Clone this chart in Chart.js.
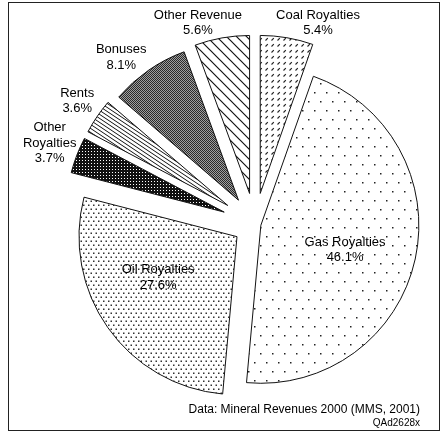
<!DOCTYPE html>
<html>
<head>
  <title>Mineral Revenues 2000</title>
  <script src="https://cdn.jsdelivr.net/npm/chart.js"></script>
  <style>
    body { margin: 0; background: #fff; }
    #frame {
      position: absolute; left: 8px; top: 2px;
      width: 430px; height: 427px;
      border: 1px solid #222;
    }
    #chart { position: absolute; left: 0; top: 0; }
  </style>
</head>
<body>
  <div id="frame"></div>
  <canvas id="chart" width="441" height="438"></canvas>

  <script>
    // clockwise from 12 o'clock
    const categories = ['Coal Royalties', 'Gas Royalties', 'Oil Royalties', 'Other Royalties', 'Rents', 'Bonuses', 'Other Revenue'];
    const shares = [5.4, 46.1, 27.6, 3.7, 3.6, 8.1, 5.6];
    const labelLines = [['Coal Royalties'], ['Gas Royalties'], ['Oil Royalties'], ['Other', 'Royalties'], ['Rents'], ['Bonuses'], ['Other Revenue']];

    const canvas = document.getElementById('chart');
    const ctx = canvas.getContext('2d');

    function makePattern(w, h, draw) {
      const c = document.createElement('canvas');
      c.width = w; c.height = h;
      const g = c.getContext('2d');
      g.fillStyle = '#fff';
      g.fillRect(0, 0, w, h);
      draw(g);
      return ctx.createPattern(c, 'repeat');
    }

    const fills = [
      // coal: short slanted dashes
      makePattern(6, 6, g => {
        g.strokeStyle = '#222'; g.lineWidth = 1.1;
        g.beginPath(); g.moveTo(1.5, 4.5); g.lineTo(3.8, 2.2); g.stroke();
      }),
      // gas: sparse staggered dots
      makePattern(12, 18, g => {
        g.fillStyle = '#222';
        g.fillRect(2, 2, 1.5, 1.5);
        g.fillRect(8, 11, 1.5, 1.5);
      }),
      // oil: dense dots
      makePattern(5, 8, g => {
        g.fillStyle = '#333';
        g.fillRect(0.5, 0.5, 1.5, 1.5);
        g.fillRect(3, 4.5, 1.5, 1.5);
      }),
      // other royalties: near black
      makePattern(3, 3, g => {
        g.fillStyle = '#111';
        g.fillRect(0, 0, 3, 3);
        g.fillStyle = '#fff';
        g.fillRect(1, 1, 1, 1);
      }),
      // rents: fine stripes
      makePattern(6, 4, g => {
        g.strokeStyle = '#111'; g.lineWidth = 1;
        g.beginPath();
        for (let k = -2; k <= 2; k++) { g.moveTo(-3, -2 + 4 * k); g.lineTo(9, 6 + 4 * k); }
        g.stroke();
      }),
      // bonuses: grey stipple
      makePattern(2, 2, g => {
        g.fillStyle = '#a0a0a0'; g.fillRect(0, 0, 2, 2);
        g.fillStyle = '#2a2a2a'; g.fillRect(0, 0, 1, 1); g.fillRect(1, 1, 1, 1);
      }),
      // other revenue: wide back-slash stripes
      makePattern(10, 10, g => {
        g.strokeStyle = '#111'; g.lineWidth = 1.2;
        g.beginPath();
        for (const c of [-10, 0, 10]) { g.moveTo(-1, -1 + c); g.lineTo(11, 11 + c); }
        g.stroke();
      })
    ];

    const explodePx = [31, 6, 22, 33, 33, 29, 31];

    // pull every slice out from the centre along its own mid angle
    const explodePlugin = {
      id: 'explode',
      afterDatasetsUpdate(chart) {
        const a = chart.chartArea;
        const cx = (a.left + a.right) / 2, cy = (a.top + a.bottom) / 2;
        chart.getDatasetMeta(0).data.forEach((arc, i) => {
          const mid = (arc.startAngle + arc.endAngle) / 2;
          arc.x = cx + Math.cos(mid) * explodePx[i];
          arc.y = cy + Math.sin(mid) * explodePx[i];
        });
      }
    };

    const labelDist = [1.333, 0.593, 0.70, 1.397, 1.368, 1.351, 1.322];
    const labelNudge = [7.7, 3.7, 6.3, 0.4, 0.4, -4.1, -5.8];

    const labelPlugin = {
      id: 'sliceLabels',
      afterDraw(chart) {
        const c = chart.ctx;
        const a = chart.chartArea;
        const cx = (a.left + a.right) / 2, cy = (a.top + a.bottom) / 2;
        c.save();
        c.fillStyle = '#000';
        c.textAlign = 'center';
        c.textBaseline = 'middle';
        c.font = '13px "Liberation Sans", Arial, sans-serif';
        chart.getDatasetMeta(0).data.forEach((arc, i) => {
          const mid = (arc.startAngle + arc.endAngle) / 2 + labelNudge[i] * Math.PI / 180;
          const d = arc.outerRadius * labelDist[i];
          const x = cx + Math.cos(mid) * d, y = cy + Math.sin(mid) * d;
          const lines = [...labelLines[i], shares[i].toFixed(1) + '%'];
          lines.forEach((t, j) => c.fillText(t, x, y + (j - (lines.length - 1) / 2) * 15.5));
        });
        c.textAlign = 'right';
        c.font = '12px "Liberation Sans", Arial, sans-serif';
        c.fillText('Data: Mineral Revenues 2000 (MMS, 2001)', 420, 410);
        c.font = '10px "Liberation Sans", Arial, sans-serif';
        c.fillText('QAd2628x', 420, 423);
        c.restore();
      }
    };

    new Chart(canvas, {
      type: 'pie',
      data: {
        labels: categories,
        datasets: [{
          data: shares,
          backgroundColor: fills,
          borderColor: '#111',
          borderWidth: 1
        }]
      },
      options: {
        responsive: false,
        animation: false,
        radius: 158,
        layout: { padding: { left: 69, right: 0, top: 10, bottom: 0 } },
        plugins: {
          legend: { display: false },
          tooltip: { enabled: false }
        },
        events: []
      },
      plugins: [explodePlugin, labelPlugin]
    });
  </script>
</body>
</html>
